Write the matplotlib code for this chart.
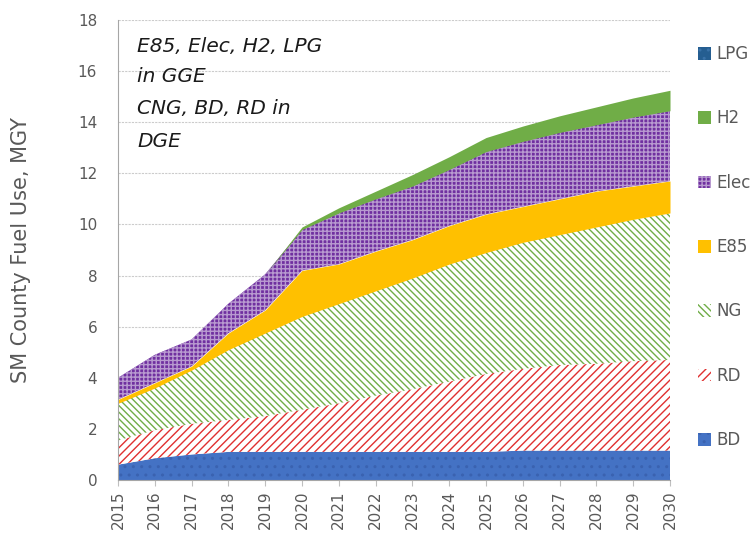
import matplotlib
matplotlib.use("Agg")
import matplotlib.pyplot as plt
import numpy as np
from matplotlib.patches import Patch

years = list(range(2015, 2031))
BD   = [0.60, 0.85, 1.00, 1.10, 1.10, 1.10, 1.10, 1.10, 1.10, 1.10, 1.10, 1.15, 1.15, 1.15, 1.15, 1.15]
RD   = [0.95, 1.10, 1.20, 1.25, 1.40, 1.65, 1.90, 2.20, 2.45, 2.75, 3.05, 3.20, 3.35, 3.40, 3.50, 3.55]
NG   = [1.45, 1.65, 2.10, 2.75, 3.25, 3.65, 3.90, 4.10, 4.35, 4.60, 4.75, 4.95, 5.10, 5.35, 5.55, 5.75]
E85  = [0.15, 0.20, 0.15, 0.65, 0.90, 1.80, 1.55, 1.55, 1.50, 1.50, 1.50, 1.40, 1.40, 1.40, 1.30, 1.25]
Elec = [0.85, 1.10, 1.05, 1.15, 1.40, 1.60, 2.00, 2.05, 2.10, 2.20, 2.45, 2.55, 2.60, 2.60, 2.70, 2.75]
H2   = [0.00, 0.00, 0.00, 0.00, 0.00, 0.10, 0.20, 0.30, 0.45, 0.50, 0.55, 0.60, 0.65, 0.70, 0.75, 0.80]
LPG  = [0.00, 0.00, 0.00, 0.00, 0.00, 0.00, 0.00, 0.00, 0.00, 0.00, 0.00, 0.00, 0.00, 0.00, 0.00, 0.00]

y_ticks = list(range(0, 19, 2))
note_lines = ["E85, Elec, H2, LPG", "in GGE", "CNG, BD, RD in", "DGE"]
y_label = "SM County Fuel Use, MGY"

plt.rcParams['font.family'] = ['DejaVu Sans']
plt.rcParams['hatch.linewidth'] = 1.0

fig = plt.figure(figsize=(7.54, 5.44), dpi=100)
ax = fig.add_axes([118/754, 1 - 480/544, (670-118)/754, (480-20)/544])

series = [
    ("BD",   BD,   dict(facecolor="#4472C4", edgecolor="#3A62B0", hatch="..")),
    ("RD",   RD,   dict(facecolor="white",   edgecolor="#E03030", hatch="////")),
    ("NG",   NG,   dict(facecolor="white",   edgecolor="#70AD47", hatch="\\\\\\\\\\")),
    ("E85",  E85,  dict(facecolor="#FFC000", edgecolor="#FFC000", hatch=None)),
    ("Elec", Elec, dict(facecolor="#7030A0", edgecolor="#B89AD0", hatch="++++")),
    ("H2",   H2,   dict(facecolor="#70AD47", edgecolor="#66A040", hatch=None)),
    ("LPG",  LPG,  dict(facecolor="#255E91", edgecolor="#3A72A8", hatch="..")),
]

x = np.array(years)
base = np.zeros(len(years))
handles = []
for name, vals, st in series:
    top = base + np.array(vals)
    ax.fill_between(x, base, top, linewidth=0, **st)
    handles.append(Patch(label=name, linewidth=0, **st))
    base = top

ax.set_xlim(2015, 2030)
ax.set_ylim(0, 18)
ax.set_yticks(y_ticks)
ax.set_xticks(years)
ax.set_xticklabels([str(y) for y in years], rotation=90)
ax.tick_params(axis='x', colors="#595959", labelsize=11, length=4, color="#BFBFBF")
ax.tick_params(axis='y', colors="#595959", labelsize=11, length=0, pad=15)
ax.yaxis.grid(True, color="#CCCCCC", linestyle=(0, (2, 1)), linewidth=0.8)
ax.set_axisbelow(True)
for s in ["top", "right"]:
    ax.spines[s].set_visible(False)
ax.spines["left"].set_color("#A6A6A6")
ax.spines["bottom"].set_color("#A6A6A6")

ax.set_ylabel(y_label, color="#595959", fontsize=15, labelpad=34)

ys = [47, 77, 108, 141]
for t, yp in zip(note_lines, ys):
    ax.text(137/754, 1 - yp/544, t, transform=fig.transFigure, fontsize=14.5,
            style="italic", color="#1a1a1a", va="center", ha="left")

leg = fig.legend(handles=handles[::-1], loc="upper left", bbox_to_anchor=(683/754, 1 - 30/544),
                 frameon=False, fontsize=12, labelspacing=2.78, handlelength=0.8,
                 handleheight=0.8, handletextpad=0.3, labelcolor="#595959")

fig.savefig("out.png", dpi=100)
